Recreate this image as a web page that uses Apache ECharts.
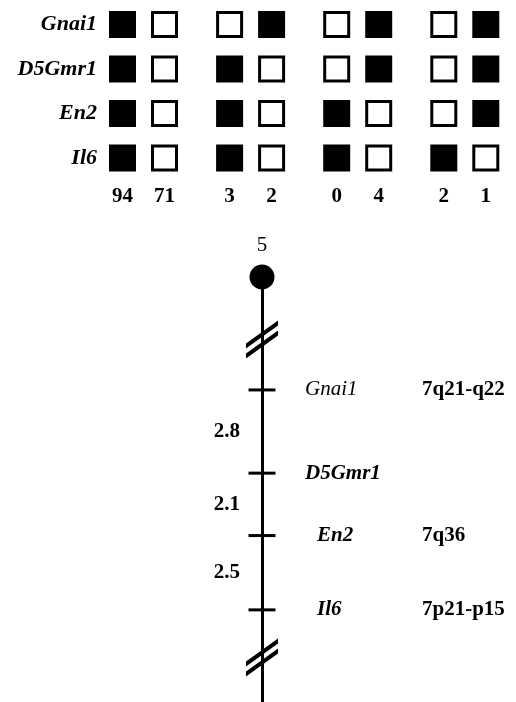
<!DOCTYPE html>
<html><head><meta charset="utf-8">
<script src="https://cdn.jsdelivr.net/npm/echarts@6/dist/echarts.min.js"></script>
<style>html,body{margin:0;padding:0;background:#fff}#c{width:516px;height:702px}</style>
</head><body><div id="c"></div>
<script>
// ---- data ----
const genes = ['Gnai1', 'D5Gmr1', 'En2', 'Il6'];
// haplotype classes (columns); 1 = filled square, 0 = open square; rows follow genes
const haplotypes = [
  [1, 1, 1, 1], [0, 0, 0, 0],
  [0, 1, 1, 1], [1, 0, 0, 0],
  [0, 0, 1, 1], [1, 1, 0, 0],
  [0, 0, 0, 1], [1, 1, 1, 0]
];
const counts = [94, 71, 3, 2, 0, 4, 2, 1];
const chromosomeName = '5';
const loci = ['Gnai1', 'D5Gmr1', 'En2', 'Il6'];
const intervals = [2.8, 2.1, 2.5];          // cM between adjacent loci
const humanBands = ['7q21-q22', '', '7q36', '7p21-p15'];
const breakMarks = [-1.7, 9.0];             // cM positions of axis breaks
const centromerePos = -3.8;                 // cM (top of chromosome)

// ---- layout helpers (not data) ----
const FONT = "'Liberation Serif','Times New Roman',serif";
const PAIR_STEP = 2.55;
const colX = haplotypes.map((h, i) => Math.floor(i / 2) * PAIR_STEP + (i % 2));
const lociPos = [0];
intervals.forEach((d, i) => lociPos.push(+(lociPos[i] + d).toFixed(2)));
const mids = intervals.map((d, i) => (lociPos[i] + lociPos[i + 1]) / 2);
const labelStyle = {
  Gnai1: { dist: 29.5, cls: 'gi' },
  D5Gmr1: { dist: 29.5, cls: 'gb' },
  En2: { dist: 41.5, cls: 'gb' },
  Il6: { dist: 41.5, cls: 'gb' }
};
const BAND_X = 422, AXIS_X = 262, TICK_W = 27;

const filled = [], open = [];
haplotypes.forEach((h, c) => h.forEach((v, r) => (v ? filled : open).push([colX[c], r])));

const breakPath = 'path://M0,23 L32,0 L32,5 L0,28 Z M0,33 L32,10 L32,15 L0,38 Z';

const option = {
  animation: false,
  backgroundColor: '#fff',
  grid: [
    { left: 101.5, top: 2.25, width: 405.3, height: 178 },
    { left: AXIS_X, top: 277, width: 200, height: 425.1 }
  ],
  xAxis: [
    {
      gridIndex: 0, type: 'value', min: -0.5, max: 9.15,
      axisLine: { show: false }, axisTick: { show: false }, splitLine: { show: false },
      axisLabel: {
        customValues: colX,
        formatter: v => { const i = colX.findIndex(x => Math.abs(x - v) < 1e-6); return i >= 0 ? String(counts[i]) : ''; },
        margin: 6, fontSize: 21, fontWeight: 'bold', fontFamily: FONT, color: '#000'
      }
    },
    { gridIndex: 1, type: 'value', min: 0, max: 1, show: false }
  ],
  yAxis: [
    {
      gridIndex: 0, type: 'category', data: genes, inverse: true,
      axisLine: { show: false }, axisTick: { show: false }, splitLine: { show: false },
      axisLabel: { margin: 4.5, fontSize: 22, fontStyle: 'italic', fontWeight: 'bold', fontFamily: FONT, color: '#000' }
    },
    {
      gridIndex: 1, type: 'value', min: centromerePos, max: 10.5, inverse: true,
      axisLine: { show: true, onZero: false, lineStyle: { color: '#000', width: 3 } },
      axisTick: { show: false }, splitLine: { show: false },
      axisLabel: {
        customValues: mids,
        formatter: v => { const i = mids.findIndex(m => Math.abs(m - v) < 1e-6); return i >= 0 ? intervals[i].toFixed(1) : ''; },
        margin: 22, fontSize: 21, fontWeight: 'bold', fontFamily: FONT, color: '#000'
      }
    }
  ],
  series: [
    {
      type: 'scatter', xAxisIndex: 0, yAxisIndex: 0, data: filled,
      symbol: 'rect', symbolSize: 27, itemStyle: { color: '#000', opacity: 1 }, silent: true
    },
    {
      type: 'scatter', xAxisIndex: 0, yAxisIndex: 0, data: open,
      symbol: 'rect', symbolSize: 24, itemStyle: { color: '#fff', borderColor: '#000', borderWidth: 3, opacity: 1 }, silent: true
    },
    {
      type: 'scatter', xAxisIndex: 1, yAxisIndex: 1, clip: false, silent: true,
      data: [[0, centromerePos]], symbol: 'circle', symbolSize: 25, itemStyle: { color: '#000', opacity: 1 },
      label: { show: true, position: 'top', distance: 9, formatter: chromosomeName, fontSize: 21, fontFamily: FONT, color: '#000' }
    },
    {
      type: 'scatter', xAxisIndex: 1, yAxisIndex: 1, clip: false, silent: true,
      data: breakMarks.map(b => [0, b]), symbol: breakPath, symbolSize: [32, 38],
      itemStyle: { color: '#000', opacity: 1 }
    },
    {
      type: 'scatter', xAxisIndex: 1, yAxisIndex: 1, clip: false, silent: true,
      symbol: 'rect', symbolSize: [TICK_W, 3], itemStyle: { color: '#000', opacity: 1 },
      data: loci.map((name, i) => {
        const st = labelStyle[name];
        const w = BAND_X - (AXIS_X + TICK_W / 2 + st.dist);
        return {
          value: [0, lociPos[i]],
          label: {
            show: true, position: 'right', distance: st.dist,
            formatter: '{' + st.cls + '|' + name + '}{b|' + humanBands[i] + '}',
            rich: {
              gi: { width: w, fontSize: 21, fontStyle: 'italic', fontFamily: FONT, color: '#000' },
              gb: { width: w, fontSize: 21, fontStyle: 'italic', fontWeight: 'bold', fontFamily: FONT, color: '#000' },
              b: { fontSize: 21, fontWeight: 'bold', fontFamily: FONT, color: '#000' }
            }
          }
        };
      })
    }
  ]
};
const chart = echarts.init(document.getElementById('c'), null, { renderer: 'canvas' });
chart.setOption(option);
</script></body></html>
